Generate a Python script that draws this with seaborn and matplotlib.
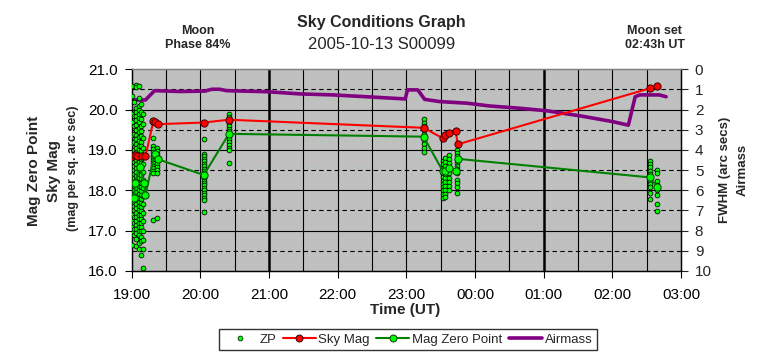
import numpy as np
import pandas as pd
import matplotlib
matplotlib.use('Agg')
import matplotlib.pyplot as plt
from matplotlib.lines import Line2D
from matplotlib.patches import Rectangle
import seaborn as sns

# heures UT -> heures depuis 19:00
def to_hours(s):
    h, m = s.split(':')
    return (int(h) + int(m) / 60 - 19) % 24

# Sky Mag (axe gauche)
sky_time = ["19:00", "19:03", "19:05", "19:09", "19:12", "19:19", "19:20", "19:23", "20:03", "20:25",
            "23:15", "23:32", "23:34", "23:37", "23:43", "23:45", "02:33", "02:39"]
sky_mag = [18.84, 18.88, 18.84, 18.85, 18.84, 19.72, 19.70, 19.64, 19.68, 19.75,
           19.55, 19.29, 19.36, 19.42, 19.48, 19.14, 20.53, 20.59]

# Mag Zero Point (moyennes)
mzp_time = ["19:02", "19:03", "19:07", "19:11", "19:12", "19:20", "19:23", "20:03", "20:25",
            "23:15", "23:32", "23:34", "23:37", "23:43", "23:45", "02:33", "02:39"]
mzp_mag = [17.82, 18.18, 18.59, 18.19, 17.89, 18.90, 18.77, 18.38, 19.40,
           19.33, 18.47, 18.47, 18.56, 18.49, 18.78, 18.32, 18.09]

# Airmass (axe droit)
am_time = ["19:00", "19:12", "19:20", "19:42", "20:04", "20:10", "20:17", "20:23", "20:58", "21:27",
           "21:56", "22:25", "22:59", "23:01", "23:10", "23:16", "23:29", "23:53", "00:13", "00:39",
           "01:03", "01:32", "02:00", "02:14", "02:20", "02:24", "02:41", "02:47"]
am_val = [1.52, 1.52, 1.06, 1.10, 1.08, 0.99, 0.99, 1.06, 1.11, 1.22,
          1.27, 1.36, 1.47, 1.02, 1.02, 1.49, 1.60, 1.68, 1.82, 1.93,
          2.06, 2.31, 2.59, 2.77, 1.36, 1.27, 1.27, 1.36]

# ZP individuels, par heure d'observation
zp_1900 = [20.58, 20.35, 19.9, 19.7, 19.37, 19.17, 18.75, 18.5, 18.38, 18.26, 18.0, 17.88, 17.75, 17.6,
           17.39, 17.23, 17.1, 17.0, 16.65]
zp_1902 = [20.2, 19.85, 19.6, 19.4, 19.2, 19.0, 18.9, 18.8, 18.7, 18.6, 18.5, 18.4, 18.3, 18.2, 18.1,
           18.0, 17.9, 17.8, 17.7, 17.6, 17.5, 17.35, 17.2, 17.05, 16.9]
zp_1904 = [20.6, 20.55, 20.05, 19.95, 19.85, 19.75, 19.62, 19.5, 19.38, 19.27, 19.15, 19.05, 18.95, 18.85,
           18.75, 18.65, 18.55, 18.45, 18.35, 18.25, 18.15, 18.05, 17.95, 17.85, 17.75, 17.65, 17.55,
           17.45, 17.35, 17.25, 17.15, 17.05, 16.95, 16.8, 16.62]
zp_1906 = [20.58, 20.3, 20.1, 20.0, 19.9, 19.8, 19.7, 19.55, 19.45, 19.33, 19.22, 19.1, 19.0, 18.9, 18.8,
           18.7, 18.6, 18.5, 18.4, 18.3, 18.2, 18.1, 18.0, 17.9, 17.8, 17.7, 17.6, 17.5, 17.4, 17.3, 17.2,
           17.1, 17.0, 16.88, 16.7, 16.55]
zp_1908 = [20.15, 19.95, 19.78, 19.6, 19.48, 19.35, 19.2, 19.1, 18.98, 18.88, 18.78, 18.68, 18.58, 18.48,
           18.38, 18.28, 18.18, 18.08, 17.98, 17.88, 17.78, 17.68, 17.58, 17.48, 17.38, 17.28, 17.18,
           17.08, 16.98, 16.85, 16.75, 16.4]
zp_1910 = [19.9, 19.65, 19.3, 19.05, 18.85, 18.65, 18.45, 18.25, 18.05, 17.85, 17.65, 17.45, 17.25, 17.0,
           16.78, 16.55, 16.07]
zp_1919 = [19.3, 19.1, 19.02, 18.95, 18.88, 18.82, 18.75, 18.68, 18.6, 18.55, 18.48, 18.42, 17.27]
zp_1922 = [19.05, 18.97, 18.9, 18.82, 18.72, 18.65, 18.58, 18.5, 18.42, 17.32]
zp_2003 = [19.27, 18.9, 18.84, 18.78, 18.72, 18.66, 18.6, 18.54, 18.48, 18.42, 18.36, 18.3, 18.24, 18.18,
           18.12, 18.06, 18.0, 17.94, 17.88, 17.82, 17.76, 17.47]
zp_2025 = [19.88, 19.81, 19.74, 19.67, 19.6, 19.53, 19.46, 19.34, 19.27, 19.2, 19.13, 19.06, 19.0, 18.67]
zp_2315 = [19.76, 19.68, 19.6, 19.5, 19.4, 19.3, 19.24, 19.15, 19.05, 18.96]
zp_2332 = [18.72, 18.64, 18.56, 18.48, 18.4, 18.32, 18.24, 18.16, 18.08, 18.0, 17.92, 17.8]
zp_2334 = [18.8, 18.7, 18.6, 18.5, 18.4, 18.3, 18.2, 18.1, 18.0, 17.9, 17.84]
zp_2337 = [18.88, 18.78, 18.68, 18.44, 18.3, 18.2, 18.1, 18.0]
zp_2344 = [19.0, 18.92, 18.84, 18.76, 18.68, 18.6, 18.52, 18.42, 18.26, 18.18, 18.08, 17.93]
zp_0233 = [18.73, 18.65, 18.57, 18.49, 18.4, 18.32, 18.24, 18.16, 18.08, 17.93, 17.79]
zp_0239 = [18.51, 18.42, 18.24, 18.12, 18.0, 17.88, 17.67, 17.48]

zp_cols = {"19:00": zp_1900, "19:02": zp_1902, "19:04": zp_1904, "19:06": zp_1906, "19:08": zp_1908,
           "19:10": zp_1910, "19:19": zp_1919, "19:22": zp_1922, "20:03": zp_2003, "20:25": zp_2025,
           "23:15": zp_2315, "23:32": zp_2332, "23:34": zp_2334, "23:37": zp_2337, "23:44": zp_2344,
           "02:33": zp_0233, "02:39": zp_0239}

hour_labels = ["19:00", "20:00", "21:00", "22:00", "23:00", "00:00", "01:00", "02:00", "03:00"]

rows = [(to_hours(k), v) for k, vals in zp_cols.items() for v in vals]
df_zp = pd.DataFrame(rows, columns=['t', 'mag'])

sns.set_style('white')
plt.rcParams['font.family'] = ['Liberation Sans', 'DejaVu Sans']
plt.rcParams['hatch.linewidth'] = 0.4

fig = plt.figure(figsize=(7.63, 3.57), dpi=100)
ax = fig.add_axes([0.1726, 0.2409, 0.7199, 0.565])
ax2 = ax.twinx()
ax.set_zorder(ax2.get_zorder() + 1)
ax.patch.set_visible(False)
ax2.patch.set_visible(True)
ax2.patch.set_facecolor('#c0c0c0')
ax2.add_patch(Rectangle((0, 0), 1, 1, transform=ax2.transAxes, facecolor='none',
                        edgecolor='#aec6ae', hatch='..', lw=0, zorder=0.1))

ax.set_xlim(0, 8)
ax.set_ylim(16, 21)
ax2.set_ylim(10, 0)

# grille
for t in np.arange(0.5, 8, 0.5):
    ax2.axvline(t, color='black', lw=1.8 if t in (2, 6) else 0.8, zorder=0.5)
for a in range(1, 10):
    if a % 2:
        ax2.axhline(a, color='black', lw=0.8, ls=(0, (4, 3)), zorder=0.5)
    else:
        ax2.axhline(a, color='black', lw=0.8, zorder=0.5)

sns.lineplot(x=[to_hours(s) for s in am_time], y=am_val, ax=ax2, color='#800080', lw=2.6,
             sort=False, estimator=None, legend=False, zorder=2)

sns.scatterplot(data=df_zp, x='t', y='mag', ax=ax, s=12, color='#00ff00', edgecolor='black',
                linewidth=0.55, legend=False, zorder=3)
sns.lineplot(x=[to_hours(s) for s in mzp_time], y=mzp_mag, ax=ax, color='#008000', lw=1.5,
             marker='o', markersize=5.2, markerfacecolor='#00ff00', markeredgecolor='#004000',
             markeredgewidth=0.7, sort=False, estimator=None, legend=False, zorder=4)
sns.lineplot(x=[to_hours(s) for s in sky_time], y=sky_mag, ax=ax, color='#ff0000', lw=1.5,
             marker='o', markersize=5.2, markerfacecolor='#ff0000', markeredgecolor='#400000',
             markeredgewidth=0.7, sort=False, estimator=None, legend=False, zorder=5)

ax.set_xticks(range(9))
ax.set_xticklabels(hour_labels)
ax.set_yticks([16, 17, 18, 19, 20, 21])
ax.set_yticklabels(['%.1f' % v for v in [16, 17, 18, 19, 20, 21]])
ax2.set_yticks(range(11))
ax.set_xlabel('')
ax.set_ylabel('')
ax2.set_ylabel('')

ax.tick_params(axis='both', direction='out', length=5, width=0.8, labelsize=11, pad=5,
               left=True, bottom=True, colors='black')
ax.tick_params(axis='x', pad=7)
ax2.tick_params(axis='y', direction='out', length=5, width=0.8, labelsize=11, pad=5, right=True)

for a_ in (ax, ax2):
    for s in ['left', 'right', 'bottom']:
        a_.spines[s].set_color('black')
        a_.spines[s].set_linewidth(0.9)
    a_.spines['top'].set_color('#808080')
    a_.spines['top'].set_linewidth(0.9)

# textes
fig.text(0.5, 0.938, 'Sky Conditions Graph', ha='center', va='center', fontsize=11.5, fontweight='bold')
fig.text(0.5, 0.874, '2005-10-13 S00099', ha='center', va='center', fontsize=12)
fig.text(0.2595, 0.894, 'Moon\nPhase 84%', ha='center', va='center', fontsize=9, fontweight='bold')
fig.text(0.858, 0.894, 'Moon set\n02:43h UT', ha='center', va='center', fontsize=9, fontweight='bold')
fig.text(0.531, 0.133, 'Time (UT)', ha='center', va='center', fontsize=11, fontweight='bold')
fig.text(0.045, 0.52, 'Mag Zero Point', rotation=90, ha='center', va='center', fontsize=11, fontweight='bold')
fig.text(0.071, 0.52, 'Sky Mag', rotation=90, ha='center', va='center', fontsize=11, fontweight='bold')
fig.text(0.096, 0.53, '(mag per sq. arc sec)', rotation=90, ha='center', va='center', fontsize=9, fontweight='bold')
fig.text(0.950, 0.523, 'FWHM (arc secs)', rotation=90, ha='center', va='center', fontsize=9.5, fontweight='bold')
fig.text(0.973, 0.525, 'Airmass', rotation=90, ha='center', va='center', fontsize=9.5, fontweight='bold')

handles = [
    Line2D([], [], ls='none', marker='o', ms=3.5, mfc='#00ff00', mec='black', mew=0.5),
    Line2D([], [], color='#ff0000', lw=1.5, marker='o', ms=5, mfc='#ff0000', mec='#400000', mew=0.7),
    Line2D([], [], color='#008000', lw=1.5, marker='o', ms=5, mfc='#00ff00', mec='#004000', mew=0.7),
    Line2D([], [], color='#800080', lw=2.6),
]
leg = fig.legend(handles, ['ZP', 'Sky Mag', 'Mag Zero Point', 'Airmass'], loc='center',
                 bbox_to_anchor=(0.5347, 0.049), ncol=4, fontsize=9.5, frameon=True,
                 fancybox=False, handlelength=2.5, handletextpad=0.2, columnspacing=0.5,
                 borderpad=0.35, borderaxespad=0)
leg.get_frame().set_edgecolor('black')
leg.get_frame().set_linewidth(1.0)

fig.savefig('out.png', dpi=100)
